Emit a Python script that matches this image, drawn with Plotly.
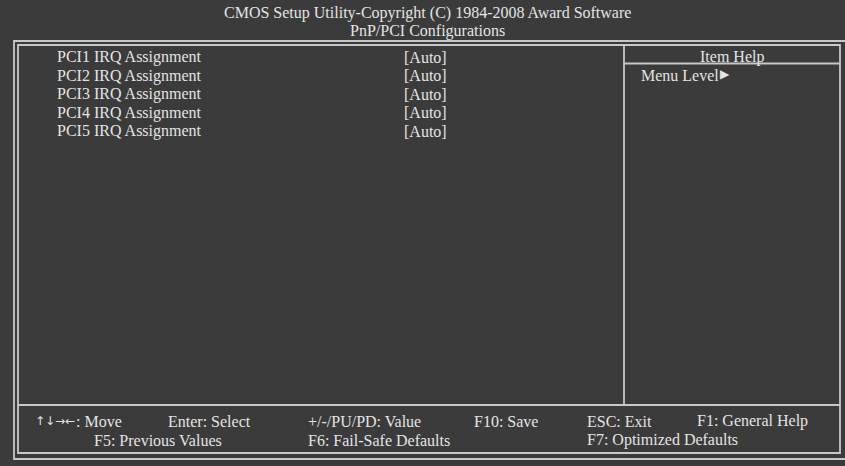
import plotly.graph_objects as go

W, H = 845, 466
BG = "#3b3b3b"
LINE = "#c8c8c8"
TXT = "#e4e4e4"
FONT = "Liberation Serif, Times New Roman, serif"
SYM_FONT = "DejaVu Sans"

title_lines = ["CMOS Setup Utility-Copyright (C) 1984-2008 Award Software",
               "PnP/PCI Configurations"]
item_labels = ["PCI1 IRQ Assignment", "PCI2 IRQ Assignment", "PCI3 IRQ Assignment",
               "PCI4 IRQ Assignment", "PCI5 IRQ Assignment"]
item_values = ["[Auto]", "[Auto]", "[Auto]", "[Auto]", "[Auto]"]
help_title = "Item Help"
help_text = "Menu Level"
help_marker = "▶"
arrow_keys = "↑↓→←"
footer_row1 = [": Move", "Enter: Select", "+/-/PU/PD: Value", "F10: Save", "ESC: Exit", "F1: General Help"]
footer_row2 = ["F5: Previous Values", "F6: Fail-Safe Defaults", "F7: Optimized Defaults"]

# layout positions (pixels)
title_x, title_y = [427, 427], [13, 31]
item_x, value_x = 55, 402
item_y0, item_dy = 57, 18.5
arrow_x = 33
footer_x1 = [74, 166, 306, 472, 585, 695]
footer_x2 = [92, 306, 585]
footer_y = [421, 440]

fig = go.Figure()

def txt(x, y, s, anchor="left", family=FONT, size=16):
    fig.add_annotation(x=x, y=y, text=s, showarrow=False, xanchor=anchor, yanchor="middle",
                       font=dict(family=family, size=size, color=TXT), xref="x", yref="y")

def rect(x0, y0, x1, y1, w=1.8):
    fig.add_shape(type="rect", x0=x0, y0=y0, x1=x1, y1=y1, xref="x", yref="y",
                  line=dict(color=LINE, width=w), fillcolor="rgba(0,0,0,0)")

def line(x0, y0, x1, y1, w=1.8):
    fig.add_shape(type="line", x0=x0, y0=y0, x1=x1, y1=y1, xref="x", yref="y",
                  line=dict(color=LINE, width=w))

# frames
rect(14, 41, 850, 459)
rect(18, 45, 840, 453)
line(18, 405, 840, 405)
line(624, 45, 624, 405)
line(624, 63.5, 840, 63.5)

for s, x, y in zip(title_lines, title_x, title_y):
    txt(x, y, s, "center")
for i, (lab, val) in enumerate(zip(item_labels, item_values)):
    y = item_y0 + i * item_dy
    txt(item_x, y, lab)
    txt(value_x, y, val)

txt(732, 57, help_title, "center")
txt(639, 75, help_text)
txt(718, 74, help_marker, family=SYM_FONT, size=12)

txt(arrow_x, footer_y[0], arrow_keys, family=SYM_FONT, size=12)
for s, x in zip(footer_row1, footer_x1):
    txt(x, footer_y[0], s)
for s, x in zip(footer_row2, footer_x2):
    txt(x, footer_y[1], s)

fig.update_xaxes(range=[0, W], visible=False, fixedrange=True)
fig.update_yaxes(range=[H, 0], visible=False, fixedrange=True)
fig.update_layout(width=W, height=H, margin=dict(l=0, r=0, t=0, b=0),
                  paper_bgcolor=BG, plot_bgcolor=BG, showlegend=False)

fig.write_html("out.html", config={"displayModeBar": False},
               post_script="document.body.style.margin='0';document.body.style.padding='0';document.body.style.background='" + BG + "';")
